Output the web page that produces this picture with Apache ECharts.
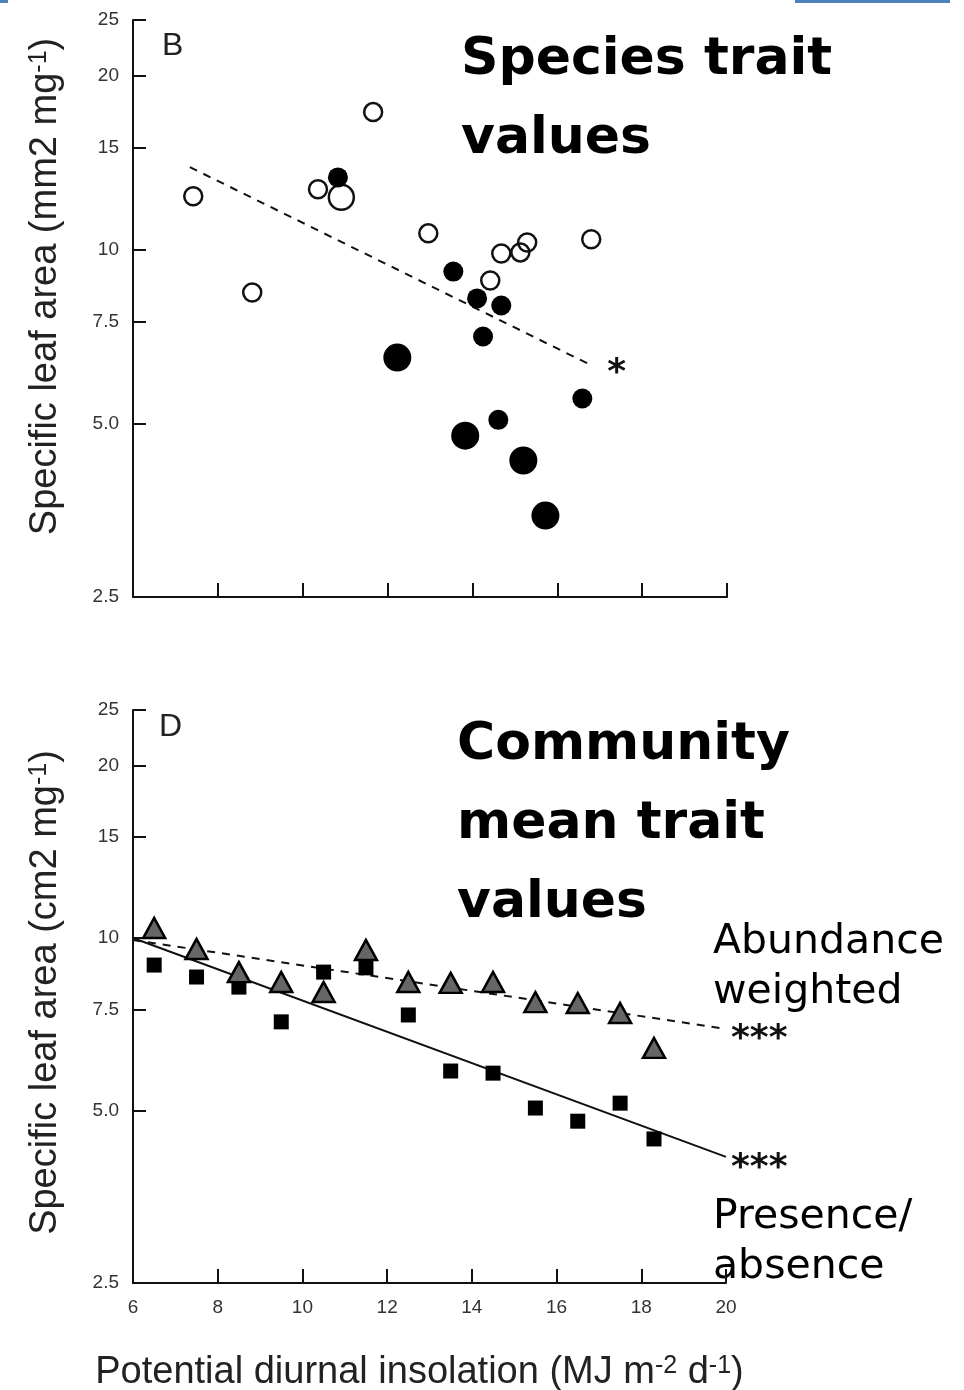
<!DOCTYPE html>
<html>
<head>
<meta charset="utf-8">
<title>Specific leaf area vs potential diurnal insolation</title>
<script src="https://cdn.jsdelivr.net/npm/echarts@6/dist/echarts.min.js"></script>
<style>
  html, body { margin: 0; padding: 0; background: #fff; }
  #chart { width: 964px; height: 1390px; }
</style>
</head>
<body>
<div id="chart"></div>
<script>
// shared axis ticks (log y axis, labelled at these values)
const yTickValues = [2.5, 5, 7.5, 10, 15, 20, 25];
const yTickLabels = ['2.5', '5.0', '7.5', '10', '15', '20', '25'];

// panel B: species trait values [insolation, SLA]
const openSmall = [
  [7.42, 12.37], [8.81, 8.43], [11.66, 17.31], [10.36, 12.72], [12.96, 10.67],
  [14.42, 8.84], [14.68, 9.85], [15.13, 9.89], [15.29, 10.29], [16.8, 10.42],
];
const openLarge = [[10.91, 12.32]];
const filledSmall = [
  [10.83, 13.34], [13.55, 9.16], [14.11, 8.23], [14.68, 8.0], [14.25, 7.07],
  [16.59, 5.52], [14.61, 5.07],
];
const filledLarge = [[12.23, 6.5], [13.83, 4.76], [15.2, 4.31], [15.72, 3.46]];
const speciesFit = [[7.34, 13.9], [16.73, 6.34]];

// panel D: community mean trait values
const insolation = [6.5, 7.5, 8.5, 9.5, 10.5, 11.5, 12.5, 13.5, 14.5, 15.5, 16.5, 17.5, 18.3];
const abundanceWeighted = [10.41, 9.57, 8.72, 8.38, 8.05, 9.53, 8.38, 8.35, 8.38, 7.73, 7.7, 7.4, 6.43];
const presenceAbsence = [8.97, 8.55, 8.21, 7.14, 8.72, 8.87, 7.34, 5.86, 5.81, 5.05, 4.79, 5.15, 4.46];
const abundanceFit = [[6, 9.92], [20, 6.94]];
const presenceFit = [[6, 10.0], [20, 4.15]];

const INK = '#111';
const LABEL_FONT = "'Liberation Sans', Arial, sans-serif";
const STAR_FONT = "'DejaVu Sans', sans-serif";

const pairs = (xs, ys) => xs.map((x, i) => [x, ys[i]]);

const tickLabel = (v) => {
  const i = yTickValues.findIndex((t) => Math.abs(t - v) < 1e-6);
  return i < 0 ? '' : yTickLabels[i];
};

const nameRich = {
  t: { fontFamily: LABEL_FONT, fontSize: 38, color: '#222' },
  s: { fontFamily: LABEL_FONT, fontSize: 25, color: '#222', verticalAlign: 'top' },
};

const xAxisFor = (gridIndex, showLabels) => ({
  gridIndex,
  type: 'value',
  min: 6,
  max: 20,
  interval: 2,
  axisLine: { lineStyle: { color: INK, width: 2 } },
  axisTick: { inside: true, length: 14, lineStyle: { color: INK, width: 2 } },
  axisLabel: {
    show: showLabels,
    color: '#333',
    fontFamily: LABEL_FONT,
    fontSize: 19,
    margin: 15,
  },
  splitLine: { show: false },
});

const yAxisFor = (gridIndex, unit, shiftUp) => ({
  gridIndex,
  type: 'log',
  logBase: 10,
  min: 2.5,
  max: 25,
  axisLine: { show: true, lineStyle: { color: INK, width: 2 } },
  axisTick: {
    show: true,
    inside: true,
    length: 13,
    customValues: yTickValues,
    lineStyle: { color: INK, width: 2 },
  },
  axisLabel: {
    customValues: yTickValues,
    formatter: tickLabel,
    color: '#333',
    fontFamily: LABEL_FONT,
    fontSize: 19,
    margin: 14,
  },
  splitLine: { show: false },
  name: `{t|Specific leaf area (${unit}2 mg}{s|-1}{t|)}`,
  nameLocation: 'middle',
  nameRotate: 90,
  nameGap: 68,
  nameTextStyle: { rich: nameRich, padding: [0, 0, 0, shiftUp * 2] },
});

const starLabel = (text, distance, dy) => ({
  show: true,
  formatter: text,
  color: INK,
  fontFamily: STAR_FONT,
  fontWeight: 'bold',
  fontSize: 36,
  distance,
  offset: [0, dy],
});

const chart = echarts.init(document.getElementById('chart'));

chart.setOption({
  backgroundColor: '#fff',
  animation: false,
  grid: [
    { left: 133, top: 20, width: 594, height: 577, outerBoundsMode: 'none' },
    { left: 133, top: 710, width: 593, height: 573, outerBoundsMode: 'none' },
  ],
  xAxis: [
    xAxisFor(0, false),
    {
      ...xAxisFor(1, true),
      name: '{t|Potential diurnal insolation (MJ m}{s|-2}{t| d}{s|-1}{t|)}',
      nameLocation: 'middle',
      nameGap: 71,
      nameTextStyle: { rich: nameRich, padding: [0, 20, 0, 0] },
    },
  ],
  yAxis: [yAxisFor(0, 'mm', 22), yAxisFor(1, 'cm', 4)],
  series: [
    {
      name: 'Species fit',
      type: 'line',
      xAxisIndex: 0,
      yAxisIndex: 0,
      data: speciesFit,
      symbol: 'none',
      lineStyle: { color: INK, width: 2, type: [8, 7] },
      endLabel: starLabel('*', 19, 10),
      z: 1,
    },
    {
      name: 'Open',
      type: 'scatter',
      xAxisIndex: 0,
      yAxisIndex: 0,
      data: openSmall,
      symbol: 'circle',
      symbolSize: 18,
      itemStyle: { color: 'rgba(255,255,255,0)', borderColor: INK, borderWidth: 2.5, opacity: 1 },
      z: 2,
    },
    {
      name: 'Open large',
      type: 'scatter',
      xAxisIndex: 0,
      yAxisIndex: 0,
      data: openLarge,
      symbol: 'circle',
      symbolSize: 25,
      itemStyle: { color: 'rgba(255,255,255,0)', borderColor: INK, borderWidth: 2.5, opacity: 1 },
      z: 2,
    },
    {
      name: 'Filled',
      type: 'scatter',
      xAxisIndex: 0,
      yAxisIndex: 0,
      data: filledSmall,
      symbol: 'circle',
      symbolSize: 20,
      itemStyle: { color: '#000', opacity: 1 },
      z: 3,
    },
    {
      name: 'Filled large',
      type: 'scatter',
      xAxisIndex: 0,
      yAxisIndex: 0,
      data: filledLarge,
      symbol: 'circle',
      symbolSize: 28,
      itemStyle: { color: '#000', opacity: 1 },
      z: 3,
    },
    {
      name: 'Abundance fit',
      type: 'line',
      xAxisIndex: 1,
      yAxisIndex: 1,
      data: abundanceFit,
      symbol: 'none',
      lineStyle: { color: INK, width: 2, type: [8, 7] },
      endLabel: starLabel('***', 5, 11),
      z: 1,
    },
    {
      name: 'Presence fit',
      type: 'line',
      xAxisIndex: 1,
      yAxisIndex: 1,
      data: presenceFit,
      symbol: 'none',
      lineStyle: { color: INK, width: 2 },
      endLabel: starLabel('***', 5, 12),
      z: 1,
    },
    {
      name: 'Presence/absence',
      type: 'scatter',
      xAxisIndex: 1,
      yAxisIndex: 1,
      data: pairs(insolation, presenceAbsence),
      symbol: 'rect',
      symbolSize: 15,
      itemStyle: { color: '#000', opacity: 1 },
      z: 2,
    },
    {
      name: 'Abundance weighted',
      type: 'scatter',
      xAxisIndex: 1,
      yAxisIndex: 1,
      data: pairs(insolation, abundanceWeighted),
      symbol: 'triangle',
      symbolSize: [22, 20],
      itemStyle: { color: '#666', borderColor: '#000', borderWidth: 2.5, opacity: 1 },
      z: 3,
    },
  ],
  graphic: [
    { type: 'rect', shape: { x: 795, y: 0, width: 155, height: 3 }, style: { fill: '#4f81bd' } },
    { type: 'rect', shape: { x: 0, y: 0, width: 8, height: 3 }, style: { fill: '#4f81bd' } },
    {
      type: 'text', left: 162, top: 30,
      style: { text: 'B', font: `32px ${LABEL_FONT}`, fill: '#222' },
    },
    {
      type: 'text', left: 159, top: 711,
      style: { text: 'D', font: `32px ${LABEL_FONT}`, fill: '#222' },
    },
    {
      type: 'text', left: 461, top: 21,
      style: {
        text: 'Species trait\nvalues',
        font: "bold 52px 'DejaVu Sans', sans-serif",
        lineHeight: 79,
        fill: '#000',
      },
    },
    {
      type: 'text', left: 457, top: 706,
      style: {
        text: 'Community\nmean trait\nvalues',
        font: "bold 52px 'DejaVu Sans', sans-serif",
        lineHeight: 79,
        fill: '#000',
      },
    },
    {
      type: 'text', left: 713, top: 917,
      style: {
        text: 'Abundance\nweighted',
        font: "41px 'DejaVu Sans', sans-serif",
        lineHeight: 50,
        fill: '#000',
      },
    },
    {
      type: 'text', left: 713, top: 1192,
      style: {
        text: 'Presence/\nabsence',
        font: "41px 'DejaVu Sans', sans-serif",
        lineHeight: 50,
        fill: '#000',
      },
    },
  ],
});
</script>
</body>
</html>
